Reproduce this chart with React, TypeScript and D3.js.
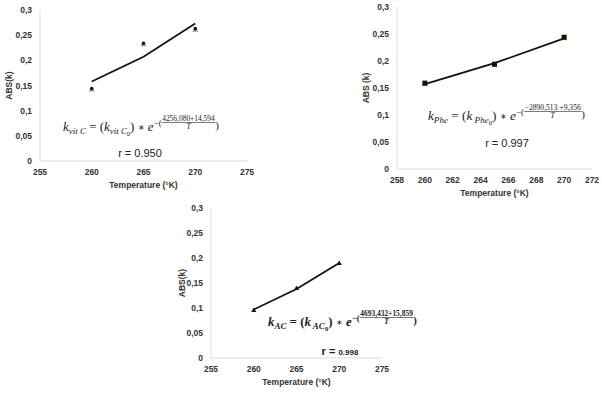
import React from "react";
import * as d3 from "d3";

const temps = [260, 265, 270];
const vitCObs = [0.143, 0.233, 0.262];
const vitCFit = [0.158, 0.207, 0.273];
const pheObs = [0.159, 0.194, 0.244];
const pheFit = [0.157, 0.196, 0.242];
const acObs = [0.096, 0.140, 0.190];
const acFit = [0.097, 0.138, 0.190];
const yTicks = [0, 0.05, 0.1, 0.15, 0.2, 0.25, 0.3];
const xTicksA = [255, 260, 265, 270, 275];
const xTicksB = [258, 260, 262, 264, 266, 268, 270, 272];
const rLabels = ["0.950", "0.997", "0.998"];

type Part = { t?: string; size: number; dy?: number; bold?: boolean; it?: boolean; frac?: { num: string; den: string } };

const EQ_FONT = "'Liberation Serif'";
let ctx: CanvasRenderingContext2D | null = null;
function measure(t: string, size: number, bold?: boolean, it?: boolean) {
  if (!ctx) ctx = document.createElement("canvas").getContext("2d");
  if (!ctx) return t.length * size * 0.5;
  ctx.font = `${it ? "italic " : ""}${bold ? "bold " : ""}${size}px ${EQ_FONT}`;
  return ctx.measureText(t).width;
}

function Equation({ parts, x0, x1, y }: { parts: Part[]; x0: number; x1: number; y: number }) {
  let cx = 0;
  const els: React.ReactNode[] = [];
  parts.forEach((p, i) => {
    const fw = p.bold ? 700 : 400;
    if (p.frac) {
      const wn = measure(p.frac.num, p.size, p.bold, false);
      const wd = measure(p.frac.den, p.size, p.bold, true);
      const w = Math.max(wn, wd) + 1;
      els.push(
        <text key={i + "n"} x={cx + w / 2} y={-10.5} fontSize={p.size} fontWeight={fw} textAnchor="middle">{p.frac.num}</text>,
        <line key={i + "l"} x1={cx} x2={cx + w} y1={-8.5} y2={-8.5} stroke="#222" strokeWidth={0.6} />,
        <text key={i + "d"} x={cx + w / 2} y={-2.5} fontSize={p.size} fontStyle="italic" fontWeight={fw} textAnchor="middle">{p.frac.den}</text>
      );
      cx += w;
    } else {
      const t = p.t || "";
      els.push(
        <text key={i} x={cx} y={p.dy || 0} fontSize={p.size} fontStyle={p.it ? "italic" : "normal"} fontWeight={fw} style={{ whiteSpace: "pre" }}>{t}</text>
      );
      cx += measure(t, p.size, p.bold, p.it);
    }
  });
  const sx = (x1 - x0) / cx;
  return (
    <g transform={`translate(${x0},${y}) scale(${sx},1)`} fill="#222" fontFamily={EQ_FONT}>
      {els}
    </g>
  );
}

function eqParts(sub: string, sub2: string, num: string, bold = false): Part[] {
  return [
    { t: "k", size: 13, bold, it: true },
    { t: sub, size: 9, dy: 3, bold, it: true },
    { t: " = (", size: 13, bold },
    { t: "k", size: 13, bold, it: true },
    { t: sub2, size: 9, dy: 3, bold, it: true },
    { t: "0", size: 6.5, dy: 5, bold },
    { t: ") ", size: 13, bold },
    { t: "∗", size: 8, dy: -1, bold: false },
    { t: " ", size: 13, bold },
    { t: "e", size: 13, bold, it: true },
    { t: "−(", size: 9, dy: -5, bold },
    { size: 7.5, bold, frac: { num, den: "T" } },
    { t: ")", size: 11, dy: -2, bold },
  ];
}

type ChartProps = {
  x0: number; x1: number; yTop: number; yBot: number;
  xDomain: [number, number]; xTicks: number[];
  obs: number[]; fit: number[];
  marker: "dot" | "square" | "tri";
  yTitle: string; yTitleX: number;
  children?: React.ReactNode;
};

function Chart(p: ChartProps) {
  const x = d3.scaleLinear().domain(p.xDomain).range([p.x0, p.x1]);
  const y = d3.scaleLinear().domain([0, 0.3]).range([p.yBot, p.yTop]);
  const line = d3.line<number>().x((_, i) => x(temps[i])).y((d) => y(d));
  const font = "'Liberation Sans', Arial, sans-serif";
  return (
    <g fontFamily={font}>
      <line x1={p.x0} x2={p.x0} y1={p.yTop} y2={p.yBot} stroke="#d9d9d9" strokeWidth={1} />
      <line x1={p.x0} x2={p.x1} y1={p.yBot} y2={p.yBot} stroke="#d9d9d9" strokeWidth={1} />
      {yTicks.map((t) => (
        <text key={t} x={p.x0 - 8} y={y(t) + 3} fontSize={8.5} fontWeight={700} fill="#333" textAnchor="end">
          {String(t).replace(".", ",")}
        </text>
      ))}
      {p.xTicks.map((t) => (
        <text key={t} x={x(t)} y={p.yBot + 14} fontSize={8.5} fontWeight={700} fill="#333" textAnchor="middle">{t}</text>
      ))}
      <text x={(p.x0 + p.x1) / 2} y={p.yBot + 27} fontSize={8.5} fontWeight={700} fill="#333" textAnchor="middle">Temperature (°K)</text>
      <text transform={`translate(${p.yTitleX},${(p.yTop + p.yBot) / 2}) rotate(-90)`} fontSize={8.5} fontWeight={700} fill="#333" textAnchor="middle">{p.yTitle}</text>
      {p.obs.map((v, i) => {
        const cx = x(temps[i]);
        const cy = y(v);
        if (p.marker === "dot")
          return (
            <g key={i}>
              <path d={`M${cx},${cy - 2.5}L${cx + 3},${cy + 2.5}L${cx - 3},${cy + 2.5}Z`} fill="#9a9a9a" />
              <circle cx={cx} cy={cy - 0.5} r={1.8} fill="#111" />
            </g>
          );
        if (p.marker === "square")
          return (
            <g key={i}>
              <path d={`M${cx},${cy - 3}L${cx + 3.5},${cy + 3}L${cx - 3.5},${cy + 3}Z`} fill="#f2c14e" />
              <rect x={cx - 2.5} y={cy - 2.5} width={5} height={5} fill="#111" />
            </g>
          );
        return <path key={i} d={`M${cx},${cy - 2.5}L${cx + 2.5},${cy + 2}L${cx - 2.5},${cy + 2}Z`} fill="#111" />;
      })}
      <path d={line(p.fit) || ""} fill="none" stroke="#111" strokeWidth={1.8} />
      {p.children}
    </g>
  );
}

export default function App() {
  return (
    <svg width={602} height={393} style={{ position: "absolute", left: 0, top: 0, background: "#fff" }}>
      <Chart x0={40} x1={247} yTop={10} yBot={161} xDomain={[255, 275]} xTicks={xTicksA}
        obs={vitCObs} fit={vitCFit} marker="dot" yTitle="ABS(k)" yTitleX={12}>
        <Equation parts={eqParts("vit C", "vit C", "4256,080+14,594")} x0={63} x1={219} y={131} />
        <text x={140} y={157} fontSize={11} fill="#222" textAnchor="middle">r = {rLabels[0]}</text>
      </Chart>
      <Chart x0={397} x1={592} yTop={7} yBot={169} xDomain={[258, 272]} xTicks={xTicksB}
        obs={pheObs} fit={pheFit} marker="square" yTitle="ABS (k)" yTitleX={369}>
        <Equation parts={eqParts("Phe", " Phe", "−2890,513 +9,356")} x0={428} x1={585} y={120} />
        <text x={507} y={147} fontSize={11} fill="#222" textAnchor="middle">r = {rLabels[1]}</text>
      </Chart>
      <Chart x0={211} x1={382} yTop={208} yBot={358} xDomain={[255, 275]} xTicks={xTicksA}
        obs={acObs} fit={acFit} marker="tri" yTitle="ABS(k)" yTitleX={185}>
        <Equation parts={eqParts("AC", " AC", "4693,432+15,859", true)} x0={268} x1={417} y={326} />
        <text x={340} y={355} fill="#222" textAnchor="middle" fontWeight={700}>
          <tspan fontSize={11}>r = </tspan>
          <tspan fontSize={8}>{rLabels[2]}</tspan>
        </text>
      </Chart>
    </svg>
  );
}
